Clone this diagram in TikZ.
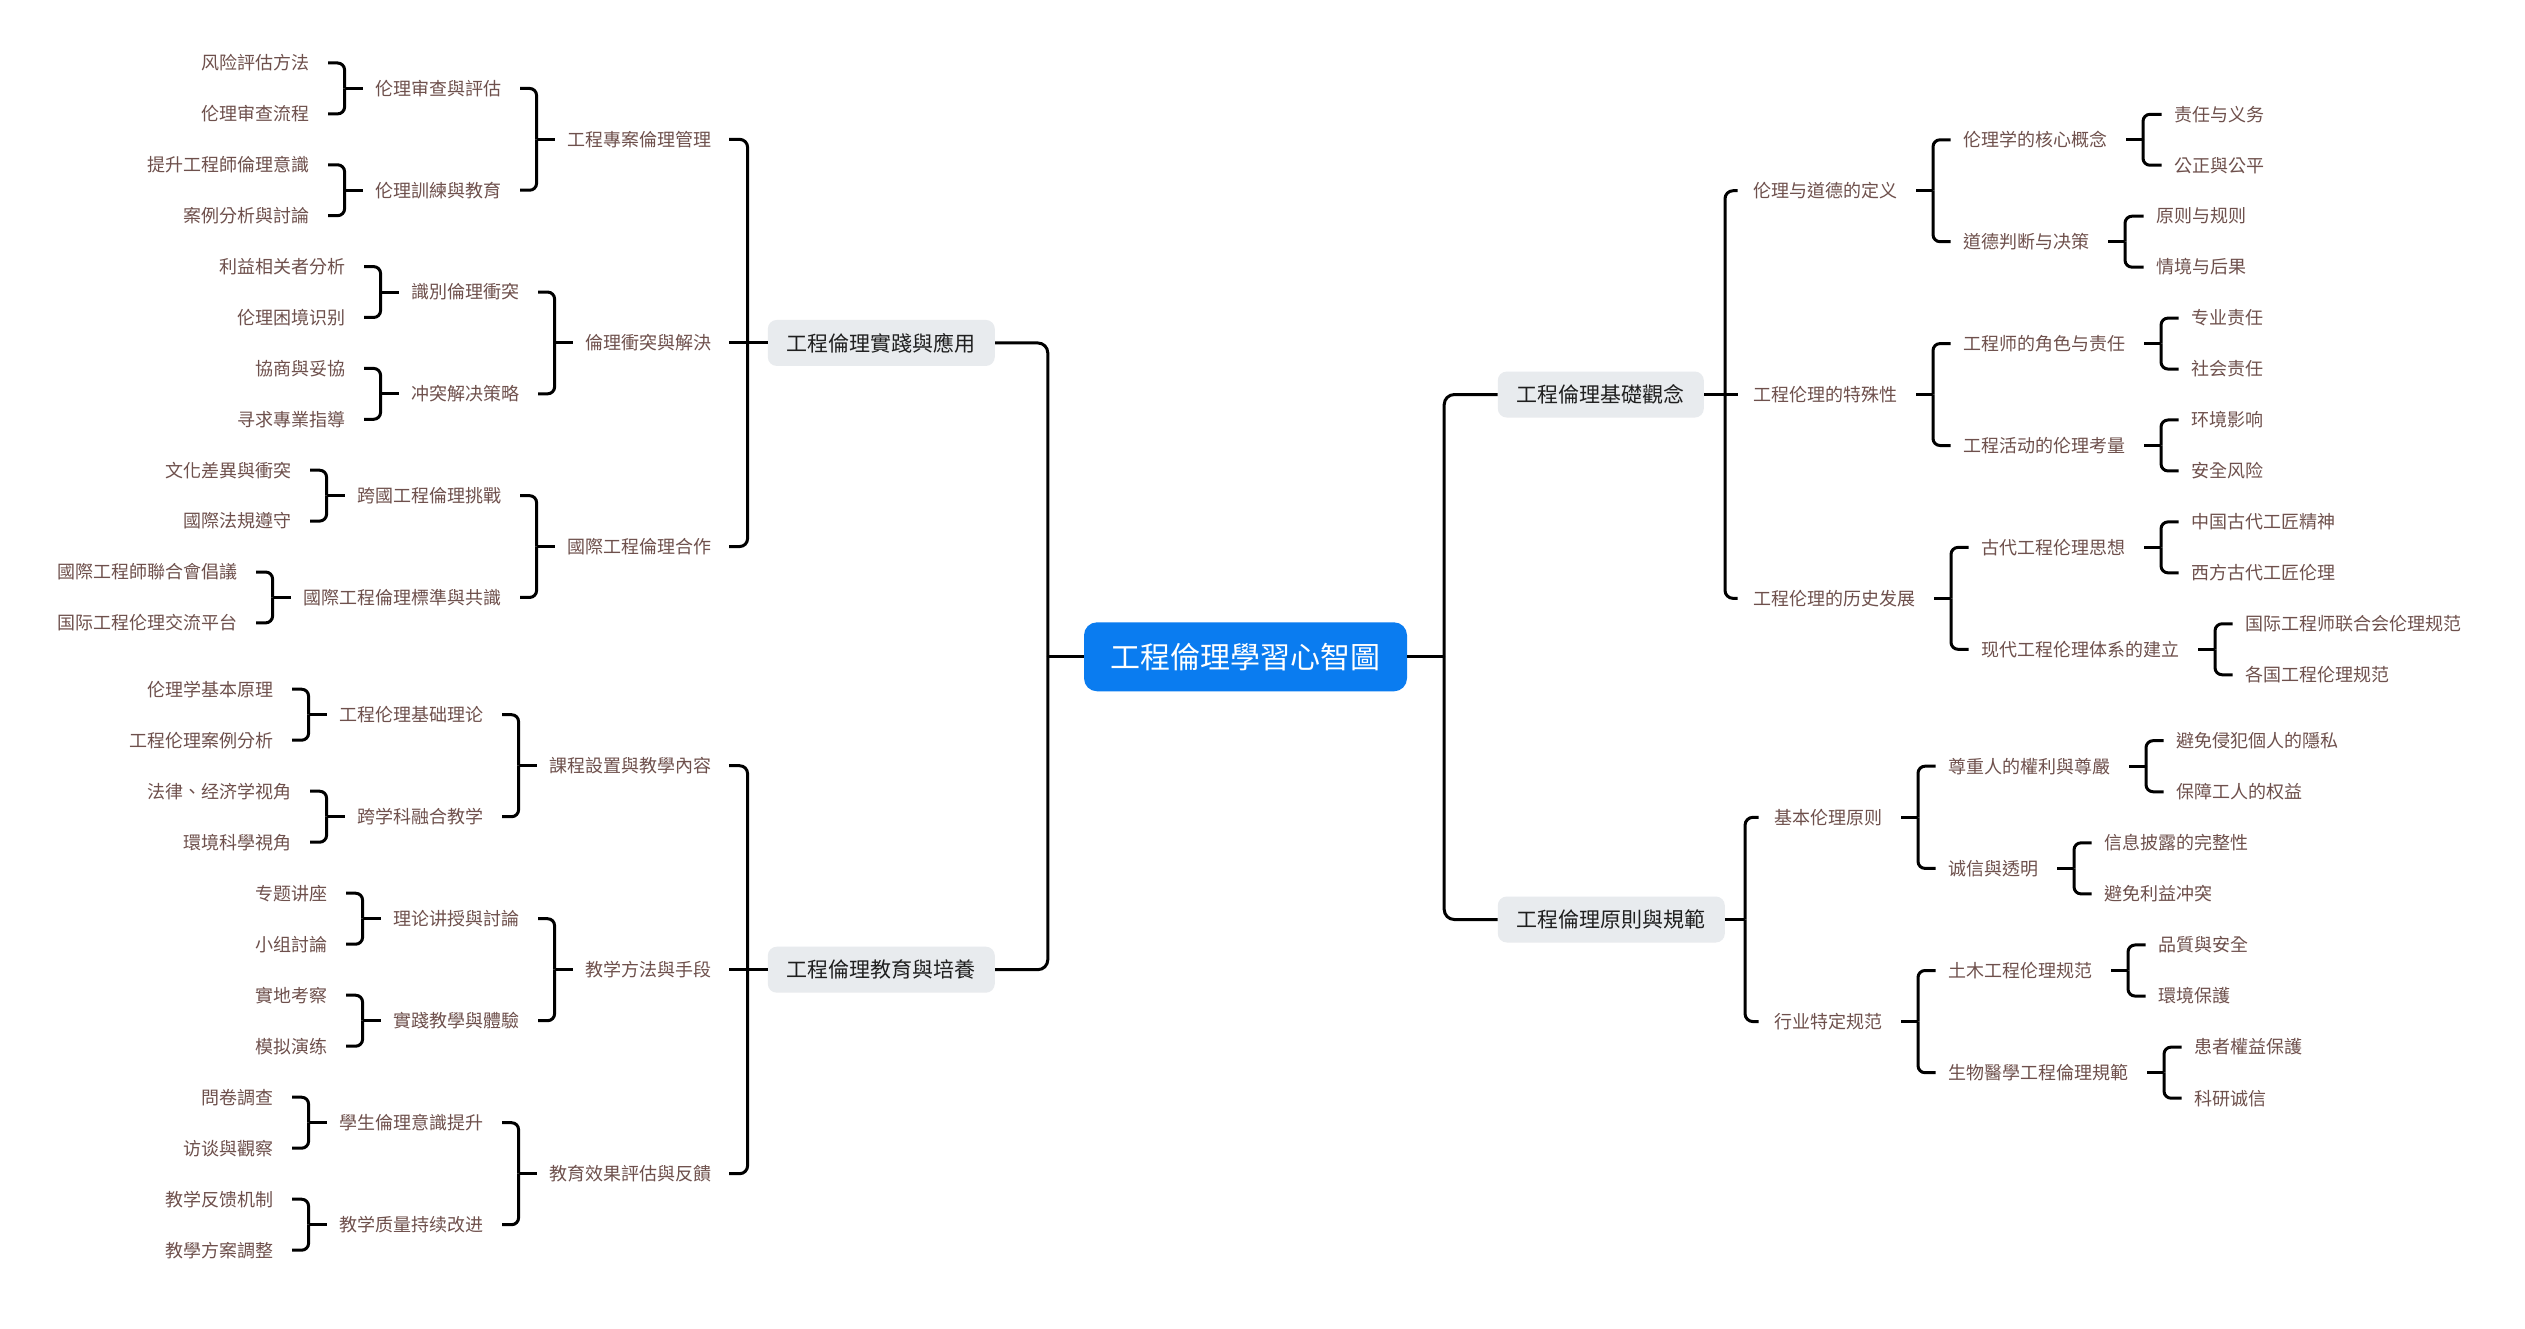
\documentclass[tikz,border=0pt]{standalone}
\usepackage{fontspec}
\setmainfont{Noto Sans CJK TC}
\definecolor{txt}{RGB}{110,80,76}
\definecolor{boxg}{RGB}{232,235,238}
\definecolor{rootb}{RGB}{10,124,240}
\tikzset{
  ln/.style={line width=3pt, draw=black},
  lt/.style={font=\fontsize{18pt}{20pt}\selectfont, text=txt, inner sep=0pt, anchor=east},
  rt/.style={lt, anchor=west},
  lonebox/.style={fill=boxg, rounded corners=9pt, font=\fontsize{21pt}{24pt}\selectfont, text=black!88, inner xsep=19pt, inner ysep=0pt, minimum height=46pt},
  rootbox/.style={fill=rootb, rounded corners=13pt, font=\fontsize{30pt}{34pt}\selectfont, text=white, inner xsep=26.5pt, inner ysep=0pt, minimum height=69pt}
}
% left bracket: parent, gap0, bracket offset, child gap, radius, children
\newcommand\lbr[6]{%
  \draw[ln] ([xshift=-#2]#1.west) -- ([xshift=-#3]#1.west);
  \foreach \cc in {#6}{\draw[ln, rounded corners=#5] ([xshift=-#3]#1.west) |- ([xshift=#4]\cc.east);}}
\newcommand\lmid[4]{\draw[ln] ([xshift=-#2]#1.west) -- ([xshift=#3]#4.east);}
\newcommand\rbr[6]{%
  \draw[ln] ([xshift=#2]#1.east) -- ([xshift=#3]#1.east);
  \foreach \cc in {#6}{\draw[ln, rounded corners=#5] ([xshift=#3]#1.east) |- ([xshift=-#4]\cc.west);}}
\newcommand\rmid[4]{\draw[ln] ([xshift=#2]#1.east) -- ([xshift=-#3]#4.west);}
\begin{document}
\begin{tikzpicture}[x=1pt,y=-1pt]
\fill[white] (0,0) rectangle (2525,1329);
\useasboundingbox (0,0) rectangle (2525,1329);

% root
\node[rootbox] (root) at (1245.5,656.8) {工程倫理學習心智圖};

% level 1
\node[lonebox, anchor=east] (P1) at (995,342.95) {工程倫理實踐與應用};
\node[lonebox, anchor=east] (P2) at (995,969.7) {工程倫理教育與培養};
\node[lonebox, anchor=west] (Q1) at (1497.6,394.55) {工程倫理基礎觀念};
\node[lonebox, anchor=west] (Q2) at (1497.6,919.5) {工程倫理原則與規範};

% ---------- left top
\node[lt] (a1) at (712,139.35) {工程專案倫理管理};
\node[lt] (a2) at (712,342.95) {倫理衝突與解決};
\node[lt] (a3) at (712,546.55) {國際工程倫理合作};
\node[lt] (a11) at (502,88.45) {伦理审查與評估};
\node[lt] (a12) at (502,190.25) {伦理訓練與教育};
\node[lt] (a21) at (520,292.05) {識別倫理衝突};
\node[lt] (a22) at (520,393.85) {冲突解决策略};
\node[lt] (a31) at (502,495.65) {跨國工程倫理挑戰};
\node[lt] (a32) at (502,597.45) {國際工程倫理標準與共識};
\node[lt] (a111) at (310,63) {风险評估方法};
\node[lt] (a112) at (310,113.9) {伦理审查流程};
\node[lt] (a121) at (310,164.8) {提升工程師倫理意識};
\node[lt] (a122) at (310,215.7) {案例分析與討論};
\node[lt] (a211) at (346,266.6) {利益相关者分析};
\node[lt] (a212) at (346,317.5) {伦理困境识别};
\node[lt] (a221) at (346,368.4) {協商與妥協};
\node[lt] (a222) at (346,419.3) {寻求專業指導};
\node[lt] (a311) at (292,470.2) {文化差異與衝突};
\node[lt] (a312) at (292,521.1) {國際法規遵守};
\node[lt] (a321) at (238,572) {國際工程師聯合會倡議};
\node[lt] (a322) at (238,622.9) {国际工程伦理交流平台};

% ---------- left bottom
\node[lt] (b1) at (712,765.7) {課程設置與教學內容};
\node[lt] (b2) at (712,969.7) {教学方法與手段};
\node[lt] (b3) at (712,1173.7) {教育效果評估與反饋};
\node[lt] (b11) at (484,714.7) {工程伦理基础理论};
\node[lt] (b12) at (484,816.7) {跨学科融合教学};
\node[lt] (b21) at (520,918.7) {理论讲授與討論};
\node[lt] (b22) at (520,1020.7) {實踐教學與體驗};
\node[lt] (b31) at (484,1122.7) {學生倫理意識提升};
\node[lt] (b32) at (484,1224.7) {教学质量持续改进};
\node[lt] (b111) at (274,689.2) {伦理学基本原理};
\node[lt] (b112) at (274,740.2) {工程伦理案例分析};
\node[lt] (b121) at (292,791.2) {法律、经济学视角};
\node[lt] (b122) at (292,842.2) {環境科學視角};
\node[lt] (b211) at (328,893.2) {专题讲座};
\node[lt] (b212) at (328,944.2) {小组討論};
\node[lt] (b221) at (328,995.2) {實地考察};
\node[lt] (b222) at (328,1046.2) {模拟演练};
\node[lt] (b311) at (274,1097.2) {問卷調查};
\node[lt] (b312) at (274,1148.2) {访谈與觀察};
\node[lt] (b321) at (274,1199.2) {教学反馈机制};
\node[lt] (b322) at (274,1250.2) {教學方案調整};

% ---------- right top
\node[rt] (c1) at (1753.6,190.75) {伦理与道德的定义};
\node[rt] (c2) at (1753.6,394.55) {工程伦理的特殊性};
\node[rt] (c3) at (1753.6,598.35) {工程伦理的历史发展};
\node[rt] (c11) at (1963.6,139.8) {伦理学的核心概念};
\node[rt] (c12) at (1963.6,241.7) {道德判断与决策};
\node[rt] (c21) at (1963.6,343.6) {工程师的角色与责任};
\node[rt] (c22) at (1963.6,445.5) {工程活动的伦理考量};
\node[rt] (c31) at (1981.6,547.4) {古代工程伦理思想};
\node[rt] (c32) at (1981.6,649.3) {现代工程伦理体系的建立};
\node[rt] (c111) at (2174.6,114.3) {责任与义务};
\node[rt] (c112) at (2174.6,165.25) {公正與公平};
\node[rt] (c121) at (2156.6,216.2) {原则与规则};
\node[rt] (c122) at (2156.6,267.15) {情境与后果};
\node[rt] (c211) at (2191.6,318.1) {专业责任};
\node[rt] (c212) at (2191.6,369.05) {社会责任};
\node[rt] (c221) at (2191.6,420) {环境影响};
\node[rt] (c222) at (2191.6,470.95) {安全风险};
\node[rt] (c311) at (2191.6,521.9) {中国古代工匠精神};
\node[rt] (c312) at (2191.6,572.85) {西方古代工匠伦理};
\node[rt] (c321) at (2245.6,623.8) {国际工程师联合会伦理规范};
\node[rt] (c322) at (2245.6,674.75) {各国工程伦理规范};

% ---------- right bottom
\node[rt] (d1) at (1774.6,817.3) {基本伦理原则};
\node[rt] (d2) at (1774.6,1021.6) {行业特定规范};
\node[rt] (d11) at (1948.6,766.2) {尊重人的權利與尊嚴};
\node[rt] (d12) at (1948.6,868.4) {诚信與透明};
\node[rt] (d21) at (1948.6,970.5) {土木工程伦理规范};
\node[rt] (d22) at (1948.6,1072.7) {生物醫學工程倫理規範};
\node[rt] (d111) at (2176.6,740.7) {避免侵犯個人的隱私};
\node[rt] (d112) at (2176.6,791.77) {保障工人的权益};
\node[rt] (d121) at (2104.6,842.84) {信息披露的完整性};
\node[rt] (d122) at (2104.6,893.91) {避免利益冲突};
\node[rt] (d211) at (2158.6,944.98) {品質與安全};
\node[rt] (d212) at (2158.6,996.05) {環境保護};
\node[rt] (d221) at (2194.6,1047.12) {患者權益保護};
\node[rt] (d222) at (2194.6,1098.19) {科研诚信};

% ---------- connectors
\lbr{root}{0pt}{36pt}{0pt}{10pt}{P1,P2}
\rbr{root}{0pt}{37pt}{0pt}{10pt}{Q1,Q2}

\lbr{P1}{0pt}{20pt}{17pt}{8pt}{a1,a3}
\lmid{P1}{20pt}{17pt}{a2}
\lbr{P2}{0pt}{20pt}{17pt}{8pt}{b1,b3}
\lmid{P2}{20pt}{17pt}{b2}
\rbr{Q1}{0pt}{21pt}{16pt}{8pt}{c1,c3}
\rmid{Q1}{21pt}{16pt}{c2}
\rbr{Q2}{0pt}{20pt}{16pt}{8pt}{d1,d2}

\lbr{a1}{13pt}{31pt}{18pt}{7pt}{a11,a12}
\lbr{a2}{13pt}{31pt}{18pt}{7pt}{a21,a22}
\lbr{a3}{13pt}{31pt}{18pt}{7pt}{a31,a32}
\lbr{a11}{13pt}{31pt}{18pt}{7pt}{a111,a112}
\lbr{a12}{13pt}{31pt}{18pt}{7pt}{a121,a122}
\lbr{a21}{13pt}{31pt}{18pt}{7pt}{a211,a212}
\lbr{a22}{13pt}{31pt}{18pt}{7pt}{a221,a222}
\lbr{a31}{13pt}{31pt}{18pt}{7pt}{a311,a312}
\lbr{a32}{13pt}{31pt}{18pt}{7pt}{a321,a322}

\lbr{b1}{13pt}{31pt}{18pt}{7pt}{b11,b12}
\lbr{b2}{13pt}{31pt}{18pt}{7pt}{b21,b22}
\lbr{b3}{13pt}{31pt}{18pt}{7pt}{b31,b32}
\lbr{b11}{13pt}{31pt}{18pt}{7pt}{b111,b112}
\lbr{b12}{13pt}{31pt}{18pt}{7pt}{b121,b122}
\lbr{b21}{13pt}{31pt}{18pt}{7pt}{b211,b212}
\lbr{b22}{13pt}{31pt}{18pt}{7pt}{b221,b222}
\lbr{b31}{13pt}{31pt}{18pt}{7pt}{b311,b312}
\lbr{b32}{13pt}{31pt}{18pt}{7pt}{b321,b322}

\rbr{c1}{18pt}{35pt}{13pt}{7pt}{c11,c12}
\rbr{c2}{18pt}{35pt}{13pt}{7pt}{c21,c22}
\rbr{c3}{18pt}{35pt}{13pt}{7pt}{c31,c32}
\rbr{c11}{18pt}{35pt}{13pt}{7pt}{c111,c112}
\rbr{c12}{18pt}{35pt}{13pt}{7pt}{c121,c122}
\rbr{c21}{18pt}{35pt}{13pt}{7pt}{c211,c212}
\rbr{c22}{18pt}{35pt}{13pt}{7pt}{c221,c222}
\rbr{c31}{18pt}{35pt}{13pt}{7pt}{c311,c312}
\rbr{c32}{18pt}{35pt}{13pt}{7pt}{c321,c322}

\rbr{d1}{18pt}{35pt}{13pt}{7pt}{d11,d12}
\rbr{d2}{18pt}{35pt}{13pt}{7pt}{d21,d22}
\rbr{d11}{18pt}{35pt}{13pt}{7pt}{d111,d112}
\rbr{d12}{18pt}{35pt}{13pt}{7pt}{d121,d122}
\rbr{d21}{18pt}{35pt}{13pt}{7pt}{d211,d212}
\rbr{d22}{18pt}{35pt}{13pt}{7pt}{d221,d222}
\end{tikzpicture}
\end{document}
